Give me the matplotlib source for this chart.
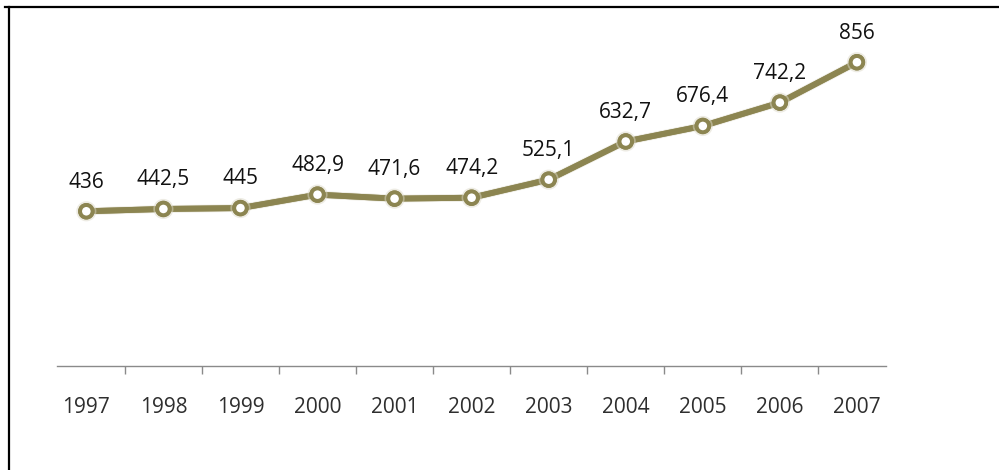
import matplotlib.pyplot as plt
from matplotlib.lines import Line2D
import matplotlib.patheffects as pe

# data
years = ['1997', '1998', '1999', '2000', '2001', '2002', '2003', '2004', '2005', '2006', '2007']
values = [436, 442.5, 445, 482.9, 471.6, 474.2, 525.1, 632.7, 676.4, 742.2, 856]
labels = ['436', '442,5', '445', '482,9', '471,6', '474,2', '525,1', '632,7', '676,4', '742,2', '856']

olive = '#8c8551'
fnt = ['Open Sans', 'DejaVu Sans']

fig = plt.figure(figsize=(9.99, 4.7), dpi=100)
ax = fig.add_axes([0.0571, 0.2213, 0.830, 0.755])

x = list(range(len(years)))
ax.plot(x, values, color=olive, lw=4.2, marker='o', markersize=9,
        markerfacecolor='white', markeredgecolor=olive, markeredgewidth=2.8,
        solid_capstyle='round',
        path_effects=[pe.withStroke(linewidth=5.5, foreground='#dcd9c8', alpha=0.5), pe.Normal()])

for xi, v, lab in zip(x, values, labels):
    ax.annotate(lab, (xi, v), xytext=(0, 21), textcoords='offset points',
                ha='center', va='center', fontsize=15, color='#111111', family=fnt)

ax.set_xlim(-0.38, 10.38)
ax.set_ylim(0, 1000)

for s in ['top', 'right', 'left']:
    ax.spines[s].set_visible(False)
ax.spines['bottom'].set_color('#8a8a8a')
ax.spines['bottom'].set_linewidth(1.0)

ax.set_yticks([])
ax.set_xticks(x)
ax.set_xticklabels(years, fontsize=15, color='#2e2e2e', family=fnt)
ax.tick_params(axis='x', which='major', length=0, pad=22)
ax.set_xticks([i + 0.5 for i in range(len(years) - 1)], minor=True)
ax.tick_params(axis='x', which='minor', length=6, color='#8a8a8a', width=1.0)

# page frame lines (left and top)
fig.add_artist(Line2D([9 / 999, 9 / 999], [0, 1 - 7 / 470], color='black', lw=1.6, transform=fig.transFigure))
fig.add_artist(Line2D([5 / 999, 1], [1 - 7 / 470, 1 - 7 / 470], color='black', lw=1.6, transform=fig.transFigure))

fig.savefig('out.png', dpi=100)
